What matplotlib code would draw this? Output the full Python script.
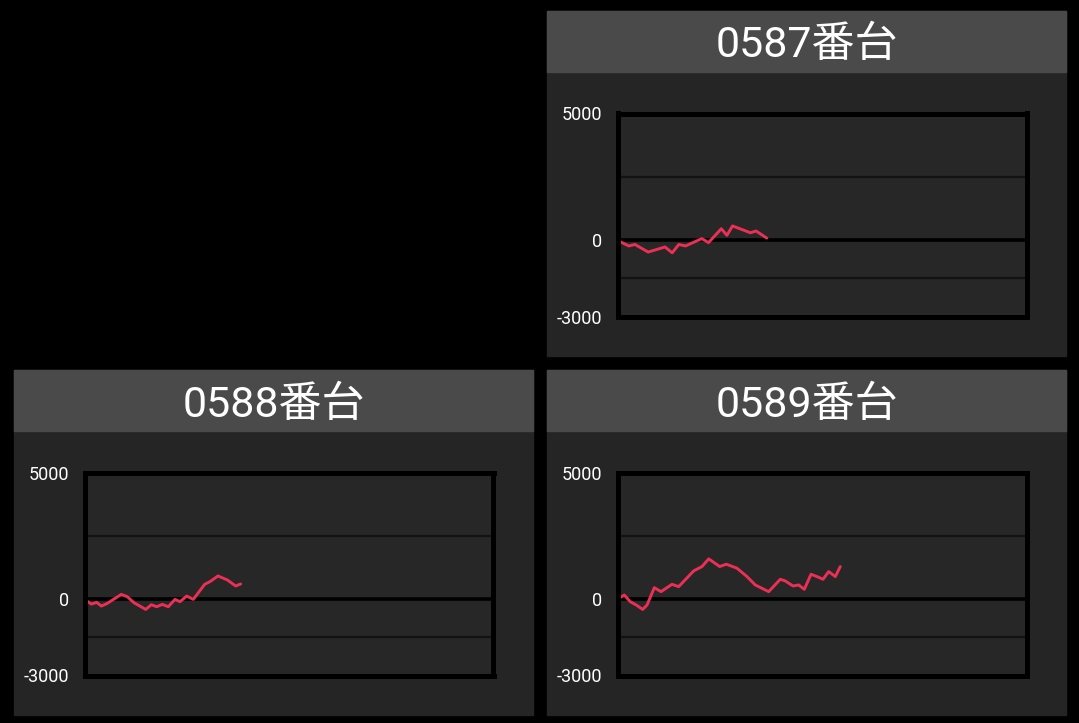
import matplotlib
matplotlib.use('Agg')
import matplotlib.pyplot as plt
from matplotlib.patches import Rectangle

plt.rcParams['font.family'] = ['Roboto', 'Noto Sans CJK JP', 'DejaVu Sans']

# machine numbers
titles = ['0587番台', '0588番台', '0589番台']

# games played vs. medal difference
games_0587 = [0, 220, 340, 600, 930, 1070, 1200, 1330, 1650, 1780, 2030, 2140,
              2250, 2600, 2710, 2920]
diff_0587 = [0, -220, -160, -460, -260, -490, -160, -220, 70, -90, 460, 200,
             570, 300, 370, 90]

games_0588 = [0, 133, 239, 329, 446, 720, 837, 968, 1197, 1307, 1412, 1522,
              1639, 1770, 1868, 1999, 2128, 2351, 2455, 2611, 2793, 2957, 3055]
diff_0588 = [0, -185, -119, -264, -158, 198, 106, -132, -396, -211, -290, -198,
             -290, 0, -92, 132, 0, 594, 700, 924, 766, 528, 607]

games_0589 = [0, 133, 250, 368, 493, 577, 720, 851, 1066, 1197, 1490, 1653,
              1784, 1999, 2128, 2337, 2533, 2695, 2957, 3184, 3282, 3433, 3544,
              3654, 3785, 3902, 4020, 4131, 4260, 4358]
diff_0589 = [0, 172, -92, -224, -396, -224, 462, 304, 594, 502, 1122, 1294,
             1597, 1294, 1386, 1228, 898, 568, 304, 792, 726, 528, 568, 396,
             990, 898, 792, 1096, 898, 1294]

y_ticks = [5000, 0, -3000]
y_grid = [2500, -1500]
x_max = 8000

W, H = 1079, 723
PANEL_W, PANEL_H, BAR_H = 519, 345, 61


def draw_panel(fig, left, top, title, games, diffs):
    # panel background and title bar (pixel layout -> figure fraction)
    fig.patches.append(Rectangle((left / W, 1 - (top + PANEL_H) / H), PANEL_W / W, PANEL_H / H,
                                 transform=fig.transFigure, color='#252525', zorder=-2))
    fig.patches.append(Rectangle((left / W, 1 - (top + BAR_H) / H), PANEL_W / W, BAR_H / H,
                                 transform=fig.transFigure, color='#4a4a4a', zorder=-1))
    fig.text((left + PANEL_W / 2) / W, 1 - (top + BAR_H / 2) / H, title,
             color='white', fontsize=31, ha='center', va='center_baseline')

    x0, x1 = left + 70.5, left + 479.5
    y0, y1 = top + 102.5, top + 305.5
    ax = fig.add_axes([x0 / W, 1 - y1 / H, (x1 - x0) / W, (y1 - y0) / H])
    ax.set_facecolor('#272727')

    for g in y_grid:
        ax.axhline(g, color='#121212', lw=1.6, zorder=1)
    ax.axhline(0, color='black', lw=2.6, zorder=1)

    ax.plot(games, diffs, color='#ec2f55', lw=2.1, zorder=2,
            solid_joinstyle='round', solid_capstyle='round')

    ax.set_xlim(0, x_max)
    ax.set_ylim(-3000, 5000)
    ax.set_xticks([])
    ax.set_yticks(y_ticks)
    ax.set_yticklabels([str(t) for t in y_ticks])
    ax.tick_params(axis='y', length=0, pad=11, labelsize=13, labelcolor='white')
    for s in ax.spines.values():
        s.set_color('black')
        s.set_linewidth(3.6)
    return ax


def main():
    fig = plt.figure(figsize=(W / 100, H / 100), dpi=100, facecolor='black')

    draw_panel(fig, 547, 11, titles[0], games_0587, diff_0587)
    draw_panel(fig, 14, 370, titles[1], games_0588, diff_0588)
    draw_panel(fig, 547, 370, titles[2], games_0589, diff_0589)

    fig.savefig('out.png', dpi=100, facecolor='black')


if __name__ == "__main__":
    main()
